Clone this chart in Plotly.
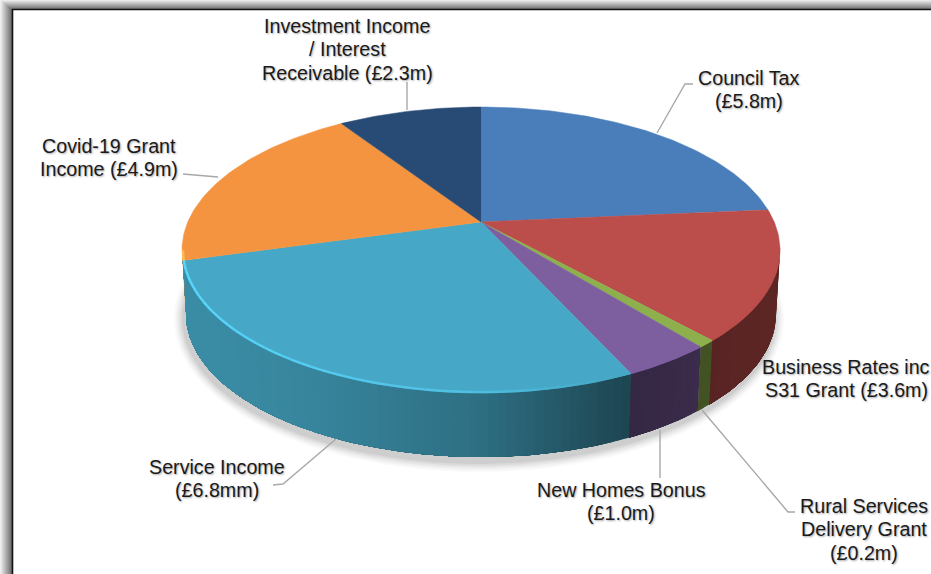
import numpy as np
import plotly.graph_objects as go

categories = ["Council Tax", "Business Rates inc S31 Grant", "Rural Services Delivery Grant",
              "New Homes Bonus", "Service Income", "Covid-19 Grant Income",
              "Investment Income / Interest Receivable"]
values = [5.8, 3.6, 0.2, 1.0, 6.8, 4.9, 2.3]
colors = ["#4A7EBB", "#BB4D4A", "#8DB04C", "#7D5FA0", "#46A8C6", "#F59440", "#284B75"]
label_lines = [
    ["Council Tax", "(£5.8m)"],
    ["Business Rates inc", "S31 Grant (£3.6m)"],
    ["Rural Services", "Delivery Grant", "(£0.2m)"],
    ["New Homes Bonus", "(£1.0m)"],
    ["Service Income", "(£6.8mm)"],
    ["Covid-19 Grant", "Income (£4.9m)"],
    ["Investment Income", "/ Interest", "Receivable (£2.3m)"],
]
label_x = [749, 846, 864, 621, 217, 109, 347]
label_y = [78, 367, 506, 490, 467, 146, 26]
LINE_H = 23.3
leaders = [
    "M657,133 L685,84 L693,84",
    "M702,410 L788,512 L795,512",
    "M660,430 L660,478",
    "M336,439 L283,484 L273,485",
    "M183,174 L218,177",
    "M407,82 L407,110",
]

# pie geometry (pixel-space ellipse with perspective-shifted apex)
CX, CY, RX, RY, DEPTH, E = 481, 250, 299, 143, 64, 0.196
BOTTOM_RX = 295


def project(theta):
    s, c = np.sin(theta), np.cos(theta)
    d = 1 + E * c
    return s * np.sqrt(1 - E ** 2) / d, (c + E) / d


def rgb(hexcolor):
    return np.array([int(hexcolor[i:i + 2], 16) for i in (1, 3, 5)], float)


def shade(hexcolor, f):
    v = np.clip(rgb(hexcolor) * f, 0, 255).astype(int)
    return f"rgb({v[0]},{v[1]},{v[2]})"


fig = go.Figure()

# soft ground shadow
t = np.linspace(0, 2 * np.pi, 240)
for grow, alpha in [(10, .025), (8, .03), (6, .04), (4, .05), (2, .06)]:
    fig.add_trace(go.Scatter(
        x=CX - 2 + (BOTTOM_RX + grow) * np.sin(t), y=CY + DEPTH + 5 - (RY + grow) * np.cos(t),
        mode="lines", fill="toself", line=dict(width=0),
        fillcolor=f"rgba(0,0,0,{alpha})", hoverinfo="skip", showlegend=False))

total = sum(values)
edges = np.concatenate([[0], np.cumsum(values)]) / total * 2 * np.pi
SHADE_X = [-1.0, -0.6, 0.0, 0.48, 0.75, 1.0]
SHADE_F = [0.84, 0.80, 0.66, 0.42, 0.47, 0.50]

# side wall: overlapping strips painted left-to-right in gradient order, so no seams show
for i, col in enumerate(colors):
    a0, a1 = edges[i], edges[i + 1]
    n = max(2, int(np.degrees(a1 - a0) / 1.5) + 1)
    th = np.linspace(a0, a1, n + 1)
    sx, cy_ = project(th)
    vis = np.where(cy_ <= 0.03)[0]
    if len(vis) < 2:
        continue
    sv, cv = sx[vis], cy_[vis]
    order = range(len(vis) - 1)
    # paint from slice start towards slice end, each strip reaching the slice end
    for j in order:
        top_x = CX + RX * sv[j:]
        top_y = CY - RY * cv[j:]
        bot_x = CX + BOTTOM_RX * sv[j:]
        bot_y = CY + DEPTH - RY * cv[j:]
        f = float(np.interp((sv[j] + sv[j + 1]) / 2, SHADE_X, SHADE_F))
        fig.add_trace(go.Scatter(
            x=np.concatenate([top_x, bot_x[::-1]]), y=np.concatenate([top_y, bot_y[::-1]]),
            mode="lines", fill="toself", fillcolor=shade(col, f),
            line=dict(width=0), hoverinfo="skip", showlegend=False))

# top face
for i, (col, name, val) in enumerate(zip(colors, categories, values)):
    th = np.linspace(edges[i], edges[i + 1], max(3, int(np.degrees(edges[i + 1] - edges[i])) + 2))
    sx, cy_ = project(th)
    xs = np.concatenate([[CX], CX + RX * sx])
    ys = np.concatenate([[CY - RY * E], CY - RY * cy_])
    fig.add_trace(go.Scatter(x=xs, y=ys, mode="lines", fill="toself", fillcolor=col,
                             line=dict(width=0.5, color=col), name=name,
                             text=f"{name}: £{val}m", hoverinfo="text", showlegend=False))

# rim highlight fading to the right
RIM_X = [-1.0, 0.0, 0.45, 1.0]
RIM_F = [1.28, 1.14, 1.0, 1.0]
for i, col in enumerate(colors):
    n = max(2, int(np.degrees(edges[i + 1] - edges[i]) / 2) + 1)
    th = np.linspace(edges[i], edges[i + 1], n + 1)
    sx, cy_ = project(th)
    for j in range(n):
        if cy_[j] > 0.02 or cy_[j + 1] > 0.02:
            continue
        f = float(np.interp(sx[j], RIM_X, RIM_F))
        fig.add_trace(go.Scatter(x=CX + (RX - 1) * sx[j:j + 2], y=CY - (RY - 1) * cy_[j:j + 2],
                                 mode="lines", line=dict(width=2.4, color=shade(col, f)),
                                 hoverinfo="skip", showlegend=False))

# labels
annotations = []
for lines, x, y in zip(label_lines, label_x, label_y):
    for k, line in enumerate(lines):
        annotations.append(dict(
            x=x, y=y + k * LINE_H, xref="x", yref="y", text=line, showarrow=False,
            xanchor="center", yanchor="middle",
            font=dict(family="Liberation Sans", size=19.7, color="#1a1a1a",
                      shadow="1px 1px 2px rgba(0,0,0,0.35)")))

# frame with soft shadow on top and left
shapes = []
for k in range(12):
    g = int(np.interp(k, [0, 11], [240, 110]))
    shapes.append(dict(type="rect", xref="x", yref="y", x0=k, x1=k + 1, y0=min(k, 9), y1=574,
                       fillcolor=f"rgb({g},{g},{g})", line=dict(width=0), layer="below"))
for k in range(9):
    g = int(np.interp(k, [0, 8], [235, 120]))
    shapes.append(dict(type="rect", xref="x", yref="y", x0=k + 1, x1=931, y0=k, y1=k + 1,
                       fillcolor=f"rgb({g},{g},{g})", line=dict(width=0), layer="below"))
shapes.append(dict(type="line", xref="x", yref="y", x0=12.5, x1=12.5, y0=9, y1=574,
                   line=dict(color="#111111", width=1.6)))
shapes.append(dict(type="line", xref="x", yref="y", x0=12, x1=931, y0=9.5, y1=9.5,
                   line=dict(color="#111111", width=1.6)))
for p in leaders:
    shapes.append(dict(type="path", xref="x", yref="y", path=p,
                       line=dict(color="#A8A8A8", width=1.4)))

fig.update_layout(
    width=931, height=574, margin=dict(l=0, r=0, t=0, b=0),
    paper_bgcolor="white", plot_bgcolor="white", showlegend=False,
    xaxis=dict(range=[0, 931], visible=False, fixedrange=True),
    yaxis=dict(range=[574, 0], visible=False, fixedrange=True),
    annotations=annotations, shapes=shapes,
)
fig.write_html("out.html", post_script="document.body.style.margin='0';",
               config=dict(displayModeBar=False))
